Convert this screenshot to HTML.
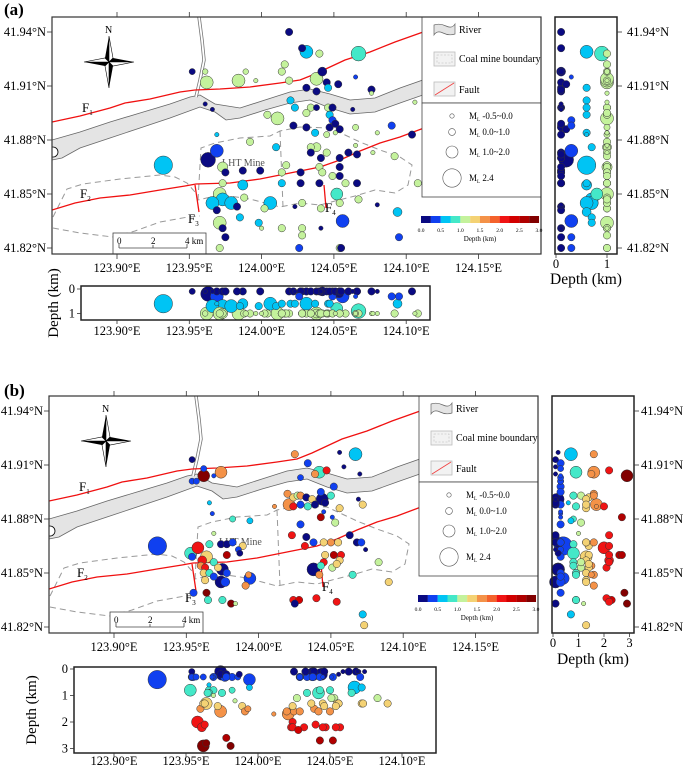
<!DOCTYPE html>
<html><head><meta charset="utf-8">
<style>
html,body{margin:0;padding:0;background:#fff;}
svg{display:block;font-family:"Liberation Serif","DejaVu Serif",serif;}
</style></head>
<body>
<svg id="fig" width="685" height="771" viewBox="0 0 685 771" xmlns="http://www.w3.org/2000/svg">
<rect x="0" y="0" width="685" height="771" fill="#fff"/>
<text x="4" y="15" font-size="17" font-weight="bold">(a)</text>
<text x="4" y="396" font-size="17" font-weight="bold">(b)</text>

<defs><clipPath id="mapclip"><rect x="52" y="17" width="489" height="237"/></clipPath></defs>

<g id="featA">
  <rect x="52" y="17" width="489" height="237" fill="#fff"/>
  <g clip-path="url(#mapclip)">
  <path d="M52,140 L80,132 L110,122 L140,113 L170,104 L190,97 L200,95 L215,104 L240,108 L265,100 L290,92 L310,89 L330,94 L350,100 L375,98 L400,88 L440,74 L440,89 L400,103 L375,112 L350,114 L330,108 L310,100 L290,103 L265,110 L240,118 L226,120 L215,112 L200,107 L170,118 L140,128 L110,138 L80,148 L62,158 L52,160 Z" fill="#e4e4e4" stroke="#666" stroke-width="0.8"/>
  <polyline points="199,17 202,40 204,60 200,80 196,97" fill="none" stroke="#777" stroke-width="3.4"/>
  <polyline points="199,17 202,40 204,60 200,80 196,97" fill="none" stroke="#fff" stroke-width="1.8"/>
  <ellipse cx="53" cy="152" rx="5" ry="5" fill="#fff" stroke="#000" stroke-width="0.8"/>
  <path d="M53,228 L80,233 L113,237 L135,231 L160,222 L188,217 L200,216 M53,217 L67,189 L83,184 L120,179 L160,175 L175,177 L187,183 L195,192" fill="none" stroke="#999" stroke-width="1" stroke-dasharray="6,4"/>
  <path d="M198,200 L201,148 L215,143 L240,138 L270,136 L280,131 L300,127 L330,128 L345,135 L360,142 L380,150 L400,157 L412,165 L408,185 L395,193 L375,190 L355,196 L335,201 L320,205 L300,203 L280,207 L265,203 L250,199 L230,196 L215,196 Z M280,131 L283,207" fill="none" stroke="#999" stroke-width="1" stroke-dasharray="6,4"/>
  <polyline points="52,122 80,116 110,108 125,103 150,99 180,92 195,90 220,89 250,87 280,83 300,80 315,74 330,67 345,60 370,52 395,42 440,26" fill="none" stroke="#f01010" stroke-width="1.3"/>
  <polyline points="52,210 75,203 100,198 130,195 160,190 185,186 196,184 230,183 260,179 290,173 320,167 340,160 360,151 380,143 400,137 440,122" fill="none" stroke="#f01010" stroke-width="1.3"/>
  <polyline points="195,185 199,212" fill="none" stroke="#f01010" stroke-width="1.3"/>
  <polyline points="324,185 326,208" fill="none" stroke="#f01010" stroke-width="1.3"/>
  </g>
  <text x="82" y="112" font-size="13">F<tspan font-size="7" dy="3">1</tspan></text>
  <text x="80" y="198" font-size="13">F<tspan font-size="7" dy="3">2</tspan></text>
  <text x="188" y="223" font-size="13">F<tspan font-size="7" dy="3">3</tspan></text>
  <text x="325" y="212" font-size="13">F<tspan font-size="7" dy="3">4</tspan></text>
  <text x="222" y="166" font-size="10" fill="#555">LHT Mine</text>
  <g>
    <text x="105" y="33" font-size="10">N</text>
    <polygon points="109,36 109,62 105,58" fill="#000"/>
    <polygon points="109,36 113,58 109,62" fill="#fff" stroke="#000" stroke-width="0.6"/>
    <polygon points="109,88 109,62 113,66" fill="#000"/>
    <polygon points="109,88 105,66 109,62" fill="#fff" stroke="#000" stroke-width="0.6"/>
    <polygon points="84,62 109,62 105,66" fill="#000"/>
    <polygon points="84,62 105,58 109,62" fill="#fff" stroke="#000" stroke-width="0.6"/>
    <polygon points="134,62 109,62 113,58" fill="#000"/>
    <polygon points="134,62 113,66 109,62" fill="#fff" stroke="#000" stroke-width="0.6"/>
  </g>
</g>

<g id="evA"></g>

<g id="overA">
  <g>
    <rect x="113" y="233" width="93" height="21" fill="#fff" stroke="#444" stroke-width="0.8"/>
    <line x1="119" y1="248" x2="187" y2="248" stroke="#444" stroke-width="0.8"/>
    <line x1="119" y1="244" x2="119" y2="248" stroke="#444" stroke-width="0.8"/>
    <line x1="153" y1="245" x2="153" y2="248" stroke="#444" stroke-width="0.8"/>
    <line x1="187" y1="244" x2="187" y2="248" stroke="#444" stroke-width="0.8"/>
    <text x="117" y="244" font-size="9">0</text>
    <text x="151" y="244" font-size="9">2</text>
    <text x="185" y="244" font-size="9">4 km</text>
  </g>
  <g>
    <rect x="422" y="17" width="119" height="86" fill="#fff" stroke="#444" stroke-width="0.8"/>
    <rect x="422" y="103" width="119" height="94" fill="#fff" stroke="#444" stroke-width="0.8"/>
    <path d="M434,25 Q440,23 446,26 T455,24 L455,34 Q449,36 443,33 T434,35 Z" fill="#e4e4e4" stroke="#666" stroke-width="0.7"/>
    <text x="459" y="33" font-size="10">River</text>
    <rect x="434" y="52" width="21" height="14" fill="#f2f2f2" stroke="#bbb" stroke-width="0.8"/>
    <rect x="437" y="55" width="15" height="8" fill="none" stroke="#bbb" stroke-width="0.6" stroke-dasharray="2,1.5"/>
    <text x="459" y="62" font-size="10">Coal mine boundary</text>
    <rect x="434" y="82" width="21" height="14" fill="#f2f2f2" stroke="#bbb" stroke-width="0.8"/>
    <line x1="435" y1="95" x2="454" y2="83" stroke="#f04040" stroke-width="0.8"/>
    <text x="459" y="93" font-size="10">Fault</text>
    <circle cx="452" cy="116" r="2.2" fill="#fff" stroke="#555" stroke-width="0.6"/>
    <circle cx="452" cy="132" r="3.4" fill="#fff" stroke="#555" stroke-width="0.6"/>
    <circle cx="452" cy="152" r="6" fill="#fff" stroke="#555" stroke-width="0.6"/>
    <circle cx="452" cy="178" r="9.2" fill="#fff" stroke="#555" stroke-width="0.6"/>
    <text x="469" y="119" font-size="9">M<tspan font-size="5" dy="2">L</tspan><tspan dy="-2"> -0.5~0.0</tspan></text>
    <text x="469" y="135" font-size="9">M<tspan font-size="5" dy="2">L</tspan><tspan dy="-2"> 0.0~1.0</tspan></text>
    <text x="469" y="155" font-size="9">M<tspan font-size="5" dy="2">L</tspan><tspan dy="-2"> 1.0~2.0</tspan></text>
    <text x="469" y="181" font-size="9">M<tspan font-size="5" dy="2">L</tspan><tspan dy="-2"> 2.4</tspan></text>
  </g>
  <g id="cbar"></g>
  <text x="480" y="241" font-size="7" text-anchor="middle">Depth (km)</text>
  <rect x="52" y="17" width="489" height="237" fill="none" stroke="#333" stroke-width="1.2"/>
  <g id="mapAxes"></g>
</g>

<g id="sideA"></g>
<g id="profA"></g>
<g id="panelB" transform="translate(-3,379)"></g>
<g id="sideB"></g>
<g id="profB"></g>
</svg>

<script>
// ---------- data (panel a: 2017-style shallow events) ----------
const aLon = [124.019,124.028,124.031,124.040,124.067,123.952,123.961,123.962,123.984,123.989,123.996,124.014,124.016,124.019,124.038,124.042,124.031,124.038,124.045,124.046,124.053,124.065,124.076,124.076,124.020,124.023,124.034,124.038,124.046,124.049,123.961,123.966,124.004,124.011,124.031,124.047,124.049,124.022,124.031,124.037,124.047,124.051,124.054,124.045,124.051,124.065,124.080,124.090,124.104,124.106,124.063,123.969,123.969,123.963,123.973,123.992,124.010,124.034,124.038,124.045,124.034,124.041,124.054,124.060,124.066,124.065,124.077,124.092,124.108,123.932,123.975,123.987,123.999,124.014,124.017,124.027,124.040,124.042,124.049,124.054,124.054,123.987,124.014,124.027,124.040,124.058,124.066,123.973,123.971,123.973,123.966,123.979,123.983,123.988,124.006,124.002,124.023,124.028,124.041,124.052,124.054,124.067,124.080,124.094,123.969,123.971,123.973,123.975,123.971,123.985,123.998,124.000,124.014,124.028,124.028,124.041,124.056,124.095,124.026,124.054,124.055];
const aLat = [41.940,41.931,41.929,41.928,41.928,41.918,41.918,41.912,41.913,41.918,41.913,41.918,41.922,41.913,41.914,41.918,41.909,41.907,41.912,41.909,41.911,41.915,41.908,41.906,41.902,41.898,41.898,41.898,41.898,41.898,41.900,41.897,41.894,41.892,41.895,41.894,41.891,41.888,41.887,41.884,41.887,41.889,41.886,41.883,41.884,41.887,41.884,41.888,41.883,41.901,41.897,41.883,41.874,41.869,41.865,41.879,41.876,41.876,41.876,41.873,41.873,41.870,41.870,41.873,41.872,41.877,41.873,41.871,41.856,41.866,41.862,41.863,41.863,41.862,41.866,41.862,41.865,41.862,41.860,41.865,41.860,41.855,41.856,41.856,41.856,41.856,41.856,41.856,41.850,41.847,41.845,41.845,41.843,41.848,41.845,41.842,41.843,41.845,41.842,41.850,41.845,41.847,41.844,41.840,41.841,41.834,41.831,41.826,41.820,41.837,41.834,41.831,41.831,41.831,41.827,41.831,41.835,41.826,41.820,41.820,41.820];
const aDep = [0.1,0.1,0.6,1.0,0.9,0.1,1.0,1.0,1.0,1.0,1.0,1.0,1.0,1.0,1.0,0.1,0.1,0.1,0.1,0.6,0.2,0.3,0.1,1.0,0.6,0.6,1.0,0.1,1.0,0.1,0.1,0.1,1.0,1.0,1.0,0.6,0.3,0.1,0.1,0.6,0.1,0.1,0.2,1.0,1.0,1.0,1.0,0.3,0.1,1.0,0.1,0.6,0.3,0.2,1.0,1.0,0.7,1.0,1.0,1.0,0.1,0.1,0.1,0.1,0.1,1.0,1.0,1.0,1.0,0.6,0.1,0.1,0.1,1.0,1.0,0.1,1.0,1.0,1.0,0.1,0.1,0.6,0.6,0.1,0.1,1.0,0.1,1.0,1.0,0.7,0.7,0.7,0.1,1.0,0.6,1.0,0.1,1.0,1.0,0.8,1.0,1.0,0.1,0.6,0.1,1.0,0.1,0.1,1.0,0.7,0.7,1.0,1.0,1.0,1.0,0.1,0.3,0.3,0.3,1.0,0.1];
const aMag = [0.5,0.5,1.5,0.5,1.8,0.3,0.2,1.5,1.5,0.2,-0.3,0.5,0.5,0.5,1.5,0.8,0.5,0.5,0.5,0.5,0.5,-0.3,0.5,-0.3,0.5,0.5,0.5,0.3,0.5,0.5,-0.3,-0.3,0.5,1.5,0.5,0.5,0.5,0.5,0.5,0.5,0.5,0.5,0.5,0.3,-0.3,0.3,-0.3,0.5,0.5,-0.3,-0.3,-0.3,1.5,1.8,1.0,0.5,0.5,0.5,0.8,0.5,0.5,0.5,0.5,0.5,0.5,-0.3,-0.3,0.5,0.5,2.4,0.5,0.5,0.5,0.5,0.5,0.5,0.5,0.5,0.5,0.5,0.5,1.0,0.5,0.5,0.5,0.5,0.5,0.5,1.5,1.5,1.5,1.5,0.5,0.5,1.5,0.5,-0.3,0.5,0.5,1.3,0.5,0.5,-0.3,0.8,0.5,1.5,0.5,0.5,0.5,0.5,0.5,-0.3,0.5,0.5,0.5,-0.3,1.5,0.5,0.5,0.5,0.5];

// ---------- data (panel b: deeper events) ----------
const bLon = [123.954,123.962,123.962,123.969,123.974,123.954,123.957,123.966,123.968,123.982,123.994,123.969,123.930,123.953,123.958,123.954,123.966,123.974,123.978,123.982,123.989,123.986,123.987,123.978,123.961,123.964,123.969,123.960,123.963,123.972,123.975,123.978,123.962,123.966,123.969,123.963,123.974,123.977,123.994,123.993,123.991,123.955,123.964,123.965,123.975,123.981,123.984,124.025,124.034,124.042,124.039,124.047,124.056,124.067,124.059,124.070,124.029,124.052,124.020,124.024,124.027,124.029,124.033,124.037,124.043,124.044,124.050,124.021,124.024,124.029,124.034,124.039,124.046,124.056,124.069,124.072,124.011,124.045,124.043,124.051,124.053,124.029,124.023,124.033,124.038,124.032,124.045,124.050,124.055,124.063,124.068,124.071,124.074,124.046,124.052,124.057,124.045,124.056,124.038,124.043,124.051,124.054,124.042,124.065,124.083,124.090,124.024,124.028,124.025,124.040,124.054,124.072,124.073];
const bLat = [41.913,41.908,41.904,41.904,41.906,41.901,41.901,41.889,41.883,41.880,41.879,41.872,41.865,41.861,41.864,41.859,41.866,41.866,41.866,41.867,41.865,41.863,41.861,41.860,41.857,41.859,41.856,41.854,41.853,41.853,41.852,41.850,41.850,41.850,41.848,41.846,41.845,41.845,41.847,41.849,41.843,41.839,41.839,41.835,41.835,41.833,41.833,41.916,41.911,41.906,41.905,41.907,41.917,41.916,41.909,41.905,41.903,41.898,41.894,41.892,41.893,41.893,41.892,41.891,41.895,41.891,41.893,41.888,41.887,41.888,41.887,41.888,41.889,41.886,41.891,41.888,41.887,41.884,41.881,41.881,41.878,41.877,41.871,41.870,41.867,41.865,41.867,41.867,41.867,41.871,41.867,41.867,41.863,41.860,41.860,41.860,41.856,41.857,41.852,41.854,41.853,41.855,41.849,41.849,41.856,41.845,41.835,41.835,41.833,41.836,41.834,41.827,41.821];
const bDep = [0.1,0.3,2.9,0.3,1.6,0.3,0.3,0.6,0.3,0.8,0.7,1.0,0.4,0.8,2.0,0.3,0.8,0.2,0.2,0.3,1.4,0.3,0.2,2.6,2.2,1.3,0.8,1.5,2.1,1.4,0.2,0.3,1.3,0.9,0.3,1.3,0.1,0.3,0.4,1.5,1.6,0.3,2.8,0.9,0.9,2.9,1.2,1.6,0.3,0.9,1.5,2.2,0.2,0.7,0.1,0.1,0.3,0.3,1.6,1.4,1.1,1.6,0.1,1.3,0.3,0.2,0.8,1.7,2.0,0.3,0.9,0.1,0.1,1.3,0.1,1.3,1.7,0.3,2.7,0.3,1.1,0.3,2.2,0.1,0.3,2.2,1.3,1.6,1.3,0.1,0.1,0.3,0.1,1.4,2.7,2.2,2.2,1.3,0.2,0.8,1.1,1.4,1.6,0.9,1.1,1.3,2.2,2.3,0.1,2.1,2.2,0.7,1.3];
const bMag = [0.3,0.3,1.3,-0.3,1.3,0.3,0.3,-0.3,-0.3,0.3,0.3,-0.3,2.4,1.3,1.3,0.5,0.5,0.5,0.5,0.5,0.5,0.3,0.3,0.5,0.8,1.3,0.5,0.5,0.5,0.5,1.3,0.5,0.5,0.5,0.5,0.5,1.3,0.8,1.3,0.3,0.5,0.5,0.5,0.5,0.5,0.5,-0.3,0.5,0.5,1.3,0.5,0.5,-0.3,1.5,-0.3,-0.3,0.3,0.5,0.5,0.5,0.5,0.5,0.5,0.5,0.5,1.3,0.5,1.3,0.5,0.5,0.5,0.5,0.5,0.5,-0.3,0.5,-0.3,-0.3,0.5,-0.3,0.5,0.5,0.5,0.5,0.5,0.5,0.5,0.5,0.5,0.5,0.5,0.5,-0.3,0.5,0.5,0.5,0.5,0.5,1.5,0.5,0.5,0.5,0.5,0.5,0.5,0.5,0.5,0.5,0.5,0.5,0.5,0.5,0.5];

// ---------- axis / scale data ----------
const depthColors = ['#0a0a82','#1040f0','#00c4f4','#44e8c8','#c4f29c','#f4d274','#f49248','#f4622c','#f01414','#d20000','#b00000','#820000'];
const cbarLabels = ['0.0','0.5','1.0','1.5','2.0','2.5','3.0'];
const latTicks = [41.94,41.91,41.88,41.85,41.82];
const lonTicksMap = [123.90,123.95,124.00,124.05,124.10,124.15];
const lonTicksProf = [123.90,123.95,124.00,124.05,124.10];
const depthTicksA = [0,1];
const depthTicksB = [0,1,2,3];

const NS = 'http://www.w3.org/2000/svg';
function mk(tag, attrs, parent){const e=document.createElementNS(NS,tag);for(const k in attrs)e.setAttribute(k,attrs[k]);parent.appendChild(e);return e;}
function xLon(lon){return 117+(lon-123.9)*1446;}
function yLat(lat){return 32+(41.94-lat)*1800;}
function colorOf(d){let i=Math.floor(d/0.25);if(i<0)i=0;if(i>11)i=11;return depthColors[i];}
function rOf(m){return Math.max(2.2,2.2+2.9*m);}
function fmtLat(v){return v.toFixed(2)+'°N';}
function fmtLon(v){return v.toFixed(2)+'°E';}

function drawEvents(g, lon, lat, dep, mag, fx, fy){
  const idx=lon.map((_,i)=>i).sort((p,q)=>mag[q]-mag[p]);
  idx.forEach(i=>{
    const c=mk('circle',{cx:fx(i).toFixed(1),cy:fy(i).toFixed(1),r:rOf(mag[i]).toFixed(1),fill:colorOf(dep[i]),stroke:'#333','stroke-width':0.5},g);
    
    
  });
}

// panel a map events
const evA=document.getElementById('evA');
drawEvents(evA,aLon,aLat,aDep,aMag,i=>xLon(aLon[i]),i=>yLat(aLat[i]));

// colorbar
const cb=document.getElementById('cbar');
depthColors.forEach((col,i)=>{
  const r=mk('rect',{x:421+i*9.83,y:216,width:9.9,height:7,fill:col},cb);
  
  
});
cbarLabels.forEach((t,i)=>{
  const tx=mk('text',{x:421+i*19.66,y:232,'font-size':5.5,'text-anchor':'middle'},cb);
  tx.textContent=t;
  
  
});

// map axes
const ax=document.getElementById('mapAxes');
latTicks.forEach(v=>{
  const y=yLat(v);
  mk('line',{x1:47,y1:y,x2:52,y2:y,stroke:'#333','stroke-width':0.8},ax);
  const t=mk('text',{x:46,y:y+4,'font-size':12.5,'text-anchor':'end'},ax);
  t.textContent=fmtLat(v);
  
  
});
lonTicksMap.forEach(v=>{
  const x=xLon(v);
  mk('line',{x1:x,y1:254,x2:x,y2:259,stroke:'#333','stroke-width':0.8},ax);
  mk('line',{x1:x,y1:12,x2:x,y2:17,stroke:'#333','stroke-width':0.8},ax);
  const t=mk('text',{x:x,y:272,'font-size':12.5,'text-anchor':'middle'},ax);
  t.textContent=fmtLon(v);
  
  
});

// side panel (depth vs latitude)
function drawSide(g, lon, lat, dep, mag, x0, x1, dx0, dxScale, dticks, labX, oy, titleY){
  const frame=mk('rect',{x:x0,y:17+oy,width:x1-x0,height:237,fill:'#fff'},g);
  
  
  drawEvents(g,lon,lat,dep,mag,i=>dx0+dep[i]*dxScale,i=>yLat(lat[i])+oy);
  mk('rect',{x:x0,y:17+oy,width:x1-x0,height:237,fill:'none',stroke:'#222','stroke-width':1.5},g);
  latTicks.forEach(v=>{
    const y=yLat(v)+oy;
    mk('line',{x1:x1,y1:y,x2:x1+5,y2:y,stroke:'#333','stroke-width':0.8},g);
    const t=mk('text',{x:labX,y:y+4,'font-size':12.5},g);
    t.textContent=fmtLat(v);
    
    
  });
  dticks.forEach(v=>{
    const x=dx0+v*dxScale;
    mk('line',{x1:x,y1:254+oy,x2:x,y2:258+oy,stroke:'#333','stroke-width':0.8},g);
    const t=mk('text',{x:x,y:268+oy,'font-size':12.5,'text-anchor':'middle'},g);
    t.textContent=String(v);
    
    
  });
  const tt=mk('text',{x:(x0+x1)/2,y:titleY,'font-size':15.5,'text-anchor':'middle'},g);
  tt.textContent='Depth (km)';
  
  
}
drawSide(document.getElementById('sideA'),aLon,aLat,aDep,aMag,555,617,556,51,depthTicksA,627,0,284);
drawSide(document.getElementById('sideB'),bLon,bLat,bDep,bMag,552,634,553,25.5,depthTicksB,641,379,664);

// profile (depth vs longitude)
function drawProf(g, lon, lat, dep, mag, x0, x1, y0, y1, lx0, lscale, dy0, dscale, dticks, labY, titleX){
  const fr=mk('rect',{x:x0,y:y0,width:x1-x0,height:y1-y0,fill:'#fff'},g);
  
  
  drawEvents(g,lon,lat,dep,mag,i=>lx0+(lon[i]-123.9)*lscale,i=>dy0+dep[i]*dscale);
  mk('rect',{x:x0,y:y0,width:x1-x0,height:y1-y0,fill:'none',stroke:'#222','stroke-width':1.5},g);
  dticks.forEach(v=>{
    const y=dy0+v*dscale;
    mk('line',{x1:x0-4,y1:y,x2:x0,y2:y,stroke:'#333','stroke-width':0.8},g);
    const t=mk('text',{x:x0-6,y:y+4,'font-size':12.5,'text-anchor':'end'},g);
    t.textContent=String(v);
    
    
  });
  lonTicksProf.forEach(v=>{
    const x=lx0+(v-123.9)*lscale;
    mk('line',{x1:x,y1:y1,x2:x,y2:y1+4,stroke:'#333','stroke-width':0.8},g);
    const t=mk('text',{x:x,y:labY,'font-size':12.5,'text-anchor':'middle'},g);
    t.textContent=fmtLon(v);
    
    
  });
  const cy=(y0+y1)/2;
  const tt=mk('text',{x:titleX,y:cy,'font-size':15,'text-anchor':'middle',transform:'rotate(-90 '+titleX+' '+cy+')'},g);
  tt.textContent='Depth (km)';
  
  
}
drawProf(document.getElementById('profA'),aLon,aLat,aDep,aMag,81,430,286,320,117,1446,289,24.5,depthTicksA,335,58);
drawProf(document.getElementById('profB'),bLon,bLat,bDep,bMag,74,436,667,753,114,1440,669,26.5,depthTicksB,765,36);

// panel b map: clone features + own events + overlay
const pb=document.getElementById('panelB');
const fb=document.getElementById('featA').cloneNode(true);
fb.removeAttribute('id');

pb.appendChild(fb);
const evB=mk('g',{},pb);


drawEvents(evB,bLon,bLat,bDep,bMag,i=>xLon(bLon[i]),i=>yLat(bLat[i]));
const ob=document.getElementById('overA').cloneNode(true);
ob.removeAttribute('id');

ob.querySelectorAll('[id]').forEach(e=>e.removeAttribute('id'));
pb.appendChild(ob);
// move lht label slightly as in panel b
</script>
</body></html>
